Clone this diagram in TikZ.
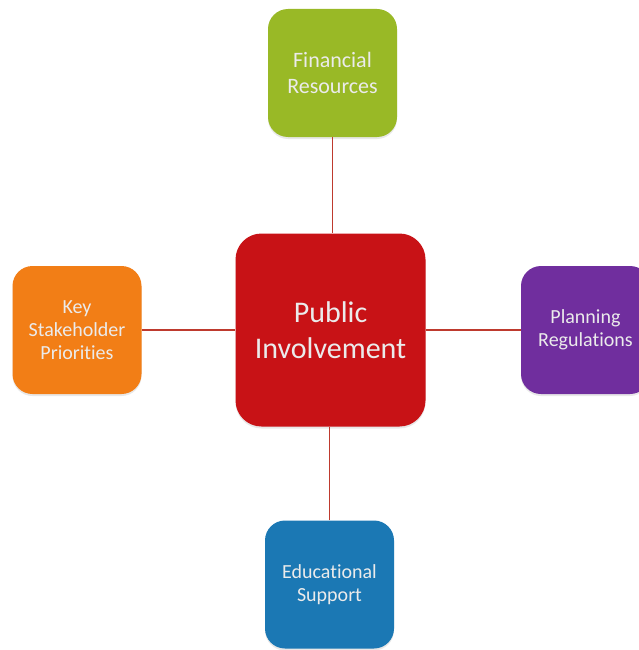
\documentclass[tikz,border=0pt]{standalone}
\usepackage{fontspec}
\setmainfont{Carlito}[Ligatures=NoCommon]
\usetikzlibrary{shadows}
\definecolor{finGreen}{RGB}{153,185,38}
\definecolor{keyOrange}{RGB}{242,126,22}
\definecolor{planPurple}{RGB}{112,46,158}
\definecolor{eduBlue}{RGB}{27,120,180}
\definecolor{pubRed}{RGB}{200,18,22}
\definecolor{linkRed}{RGB}{190,58,46}
\begin{document}
\begin{tikzpicture}[x=1pt,y=-1pt,
    box/.style={rounded corners=20pt,inner sep=0pt,minimum width=129pt,minimum height=128pt,
        align=center,text=white!92!black,font=\fontsize{20}{23}\selectfont,
        drop shadow={opacity=0.18,shadow xshift=0pt,shadow yshift=-2pt}},
    hub/.style={box,rounded corners=26pt,minimum width=190pt,minimum height=193pt,
        font=\fontsize{30}{36}\selectfont},
    link/.style={draw=linkRed,line width=1.2pt}]
    % frame
    \useasboundingbox (0,0) rectangle (639,650);
    % hub
    \node[hub,fill=pubRed] (pub) at (330.5,330) {Public\\Involvement};
    % satellites
    \node[box,fill=finGreen,font=\fontsize{22}{26}\selectfont] (fin) at (332.5,73) {Financial\\Resources};
    \node[box,fill=keyOrange] (key) at (77,330) {Key\\Stakeholder\\Priorities};
    \node[box,fill=planPurple] (plan) at (585.5,330) {Planning\\Regulations};
    \node[box,fill=eduBlue] (edu) at (329.5,584.5) {Educational\\Support};
    % links
    \draw[link] (fin.south) -- (fin.south |- pub.north);
    \draw[link] (key.east) -- (pub.west);
    \draw[link] (pub.east) -- (plan.west);
    \draw[link] (edu.north) -- (edu.north |- pub.south);
\end{tikzpicture}
\end{document}
